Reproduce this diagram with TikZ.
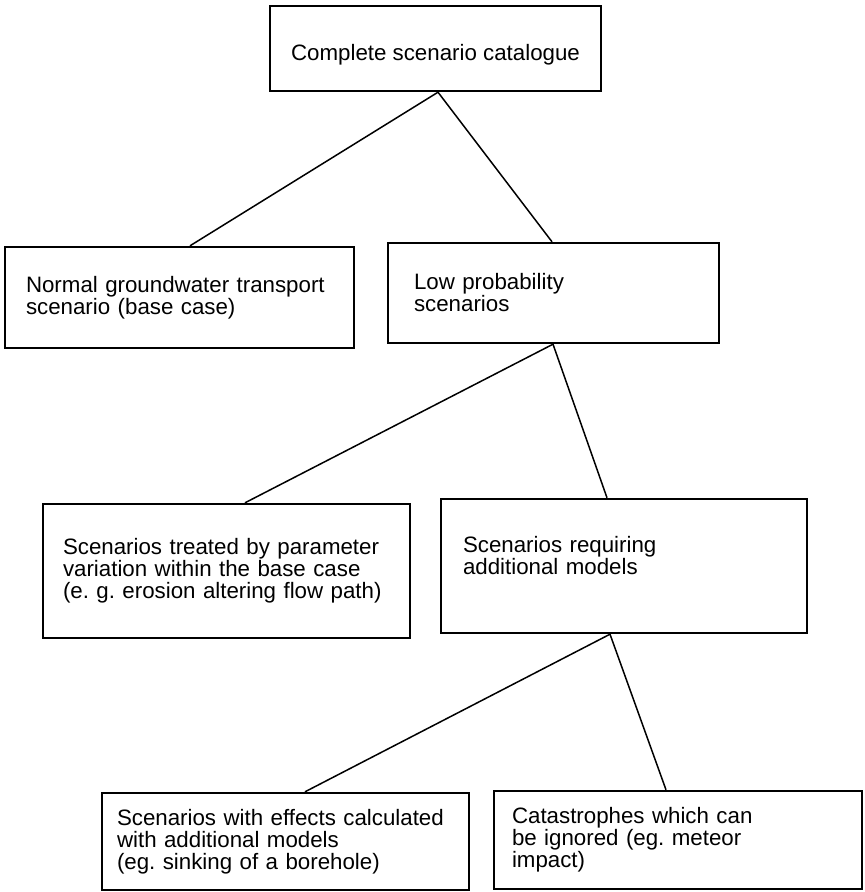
\documentclass[tikz,border=0pt]{standalone}
\usepackage{fontspec}
\setmainfont{Liberation Sans}
\begin{document}
\frenchspacing
\begin{tikzpicture}[x=1pt,y=-1pt,
    box/.style={draw,line width=2.4pt,font=\fontsize{22.3}{22}\selectfont},
    textbox/.style={box,align=left},
    link/.style={line width=1.5pt}]
    \useasboundingbox (0,0) rectangle (865,892);
    \node[box,align=center,minimum width=331pt,minimum height=85pt,text height=27pt,text depth=4pt] at (435.5,48.5) (catalogue) {Complete scenario catalogue};
    \node[textbox,inner xsep=21pt,text width=307pt,minimum height=101pt] at (179.5,297.5) (normal) {Normal groundwater transport\\scenario (base case)};
    \node[textbox,inner xsep=26pt,text width=279pt,minimum height=100pt] at (553.5,293) (lowprob) {Low probability\\scenarios};
    \node[textbox,inner xsep=20pt,text width=327pt,minimum height=134pt] at (226.5,571) (treated) {Scenarios treated by parameter\\variation within the base case\\(e. g. erosion altering flow path)};
    \node[textbox,inner xsep=22pt,text width=322pt,minimum height=134pt] at (624,566) (requiring) {Scenarios requiring\\additional models\\\mbox{}};
    \node[textbox,inner xsep=15pt,text width=337pt,minimum height=97pt] at (285.5,841.5) (effects) {Scenarios with effects calculated\\with additional models\\(eg. sinking of a borehole)};
    \node[textbox,inner xsep=18pt,text width=332pt,minimum height=98pt] at (678,840) (catastrophes) {Catastrophes which can\\be ignored (eg. meteor\\impact)};
    \draw[link] ([xshift=2.5pt]catalogue.south) -- ([xshift=10.5pt]normal.north);
    \draw[link] ([xshift=2.5pt]catalogue.south) -- ([xshift=-1.5pt]lowprob.north);
    \draw[link] ([xshift=-0.5pt]lowprob.south) -- ([xshift=18.5pt]treated.north);
    \draw[link] ([xshift=-0.5pt]lowprob.south) -- ([xshift=-17pt]requiring.north);
    \draw[link] ([xshift=-14pt]requiring.south) -- ([xshift=19.5pt]effects.north);
    \draw[link] ([xshift=-14pt]requiring.south) -- ([xshift=-12pt]catastrophes.north);
\end{tikzpicture}
\end{document}
